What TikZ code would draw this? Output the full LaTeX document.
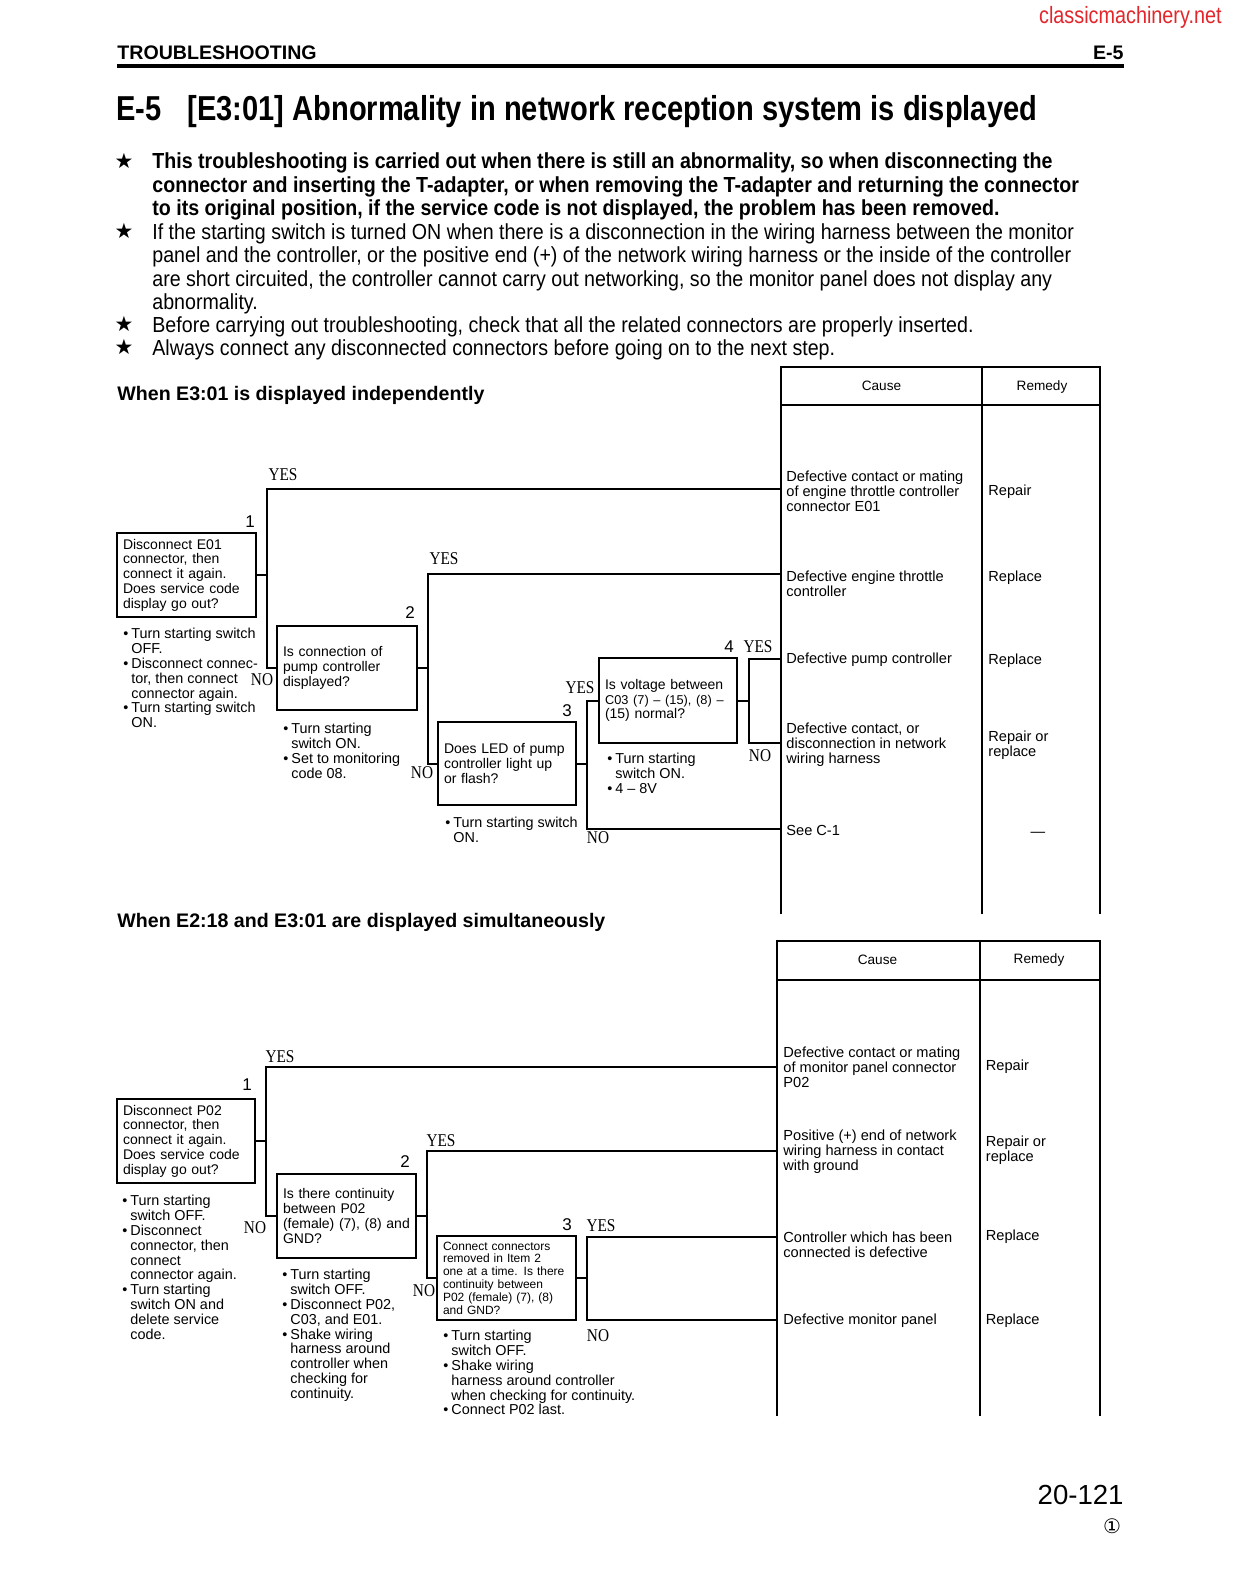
\documentclass[tikz,border=0pt]{standalone}
\usepackage{fontspec}
\setmainfont{Liberation Sans}
\newfontfamily\narrowfont[FakeStretch=0.84]{Liberation Sans}
\newfontfamily\starfont[FakeStretch=0.9]{Liberation Sans}
\newfontfamily\ynfont[FakeStretch=0.85]{Liberation Serif}
\newfontfamily\symfont{DejaVu Sans}
\usepackage{tikz}
\definecolor{sitered}{HTML}{E3262B}
\tikzset{
  qbox/.style 2 args={draw, line width=1.1pt, minimum width=#1, minimum height=#2, text width=#1-6pt, inner xsep=3pt, inner ysep=0pt, align=left, font=\fontsize{7}{7.4}\selectfont},
  note/.style={anchor=north west, inner sep=0pt, align=left, font=\fontsize{7.2}{7.4}\selectfont},
  yn/.style={inner sep=0pt, font=\ynfont\fontsize{9}{9}\selectfont},
  stepno/.style={inner sep=0pt, font=\fontsize{8.5}{9}\selectfont},
  wire/.style={line width=1pt},
  tabline/.style={line width=1pt},
  cause/.style={anchor=west, inner sep=0pt, align=left, font=\fontsize{7.3}{7.6}\selectfont},
  hdr/.style={inner sep=0pt, font=\fontsize{6.8}{7}\selectfont},
  startext/.style={anchor=north west, inner sep=0pt, align=left, font=\starfont\fontsize{10.9}{11.6}\selectfont},
  startextb/.style={startext, font=\starfont\bfseries\fontsize{10.9}{11.6}\selectfont},
  starmark/.style={inner sep=0pt, font=\symfont\fontsize{10.5}{10.5}\selectfont},
  subhead/.style={anchor=base west, inner sep=0pt, font=\bfseries\fontsize{9.8}{10}\selectfont},
}
\newcommand{\bu}{\makebox[4pt][l]{\textbullet}}
\newcommand{\ind}{\hspace*{4pt}}

\begin{document}
\begin{tikzpicture}[x=0.5pt,y=-0.5pt]
  \fill[white] (0,0) rectangle (1234,1584);
  \useasboundingbox (0,0) rectangle (1234,1584);

  \node[anchor=base east, inner sep=0pt, text=sitered, font=\narrowfont\fontsize{11.8}{12}\selectfont] (site) at (1222,24) {classicmachinery.net};
  \node[anchor=base west, inner sep=0pt, font=\bfseries\fontsize{9.8}{10}\selectfont] (sect) at (117,59.5) {TROUBLESHOOTING};
  \node[anchor=base east, inner sep=0pt, font=\bfseries\fontsize{9.8}{10}\selectfont] (sectno) at (1124,59.5) {E-5};
  \draw[line width=1.7pt] (117,66) -- (1124,66);
  \node[anchor=base west, inner sep=0pt, font=\narrowfont\bfseries\fontsize{17.3}{18}\selectfont] (title) at (116,120) {E-5\hspace{13pt}[E3:01] Abnormality in network reception system is displayed};

  \node[starmark] (s1) at (124,160.6) {★};
  \node[startextb] (p1) at (152,152.8) {This troubleshooting is carried out when there is still an abnormality, so when disconnecting the\\connector and inserting the T-adapter, or when removing the T-adapter and returning the connector\\to its original position, if the service code is not displayed, the problem has been removed.};
  \node[starmark] (s2) at (124,231.3) {★};
  \node[startext] (p2) at (152,223.5) {If the starting switch is turned ON when there is a disconnection in the wiring harness between the monitor\\panel and the controller, or the positive end (+) of the network wiring harness or the inside of the controller\\are short circuited, the controller cannot carry out networking, so the monitor panel does not display any\\abnormality.};
  \node[starmark] (s3) at (124,324.2) {★};
  \node[startext] (p3) at (152,316.4) {Before carrying out troubleshooting, check that all the related connectors are properly inserted.};
  \node[starmark] (s4) at (124,347.4) {★};
  \node[startext] (p4) at (152,339.6) {Always connect any disconnected connectors before going on to the next step.};

  \node[subhead] (head1) at (117,400) {When E3:01 is displayed independently};
  \node[subhead] (head2) at (117,927) {When E2:18 and E3:01 are displayed simultaneously};

  \draw[tabline] (781,914) -- (781,367) -- (1100,367) -- (1100,914);
  \draw[tabline] (781,405) -- (1100,405);
  \draw[tabline] (982,367) -- (982,914);
  \node[hdr] (tcause) at (881.5,386) {Cause};
  \node[hdr] (tremedy) at (1042,387) {Remedy};
  \node[cause] (p1c) at (786,491) {Defective contact or mating\\of engine throttle controller\\connector E01};
  \node[cause] (p2c) at (786,584) {Defective engine throttle\\controller};
  \node[cause] (p3c) at (786,660) {Defective pump controller};
  \node[cause] (p4c) at (786,745) {Defective contact, or\\disconnection in network\\wiring harness};
  \node[cause] (p5c) at (786,830) {See C-1};
  \node[cause] (u1) at (988,492) {Repair};
  \node[cause] (u2) at (988,578) {Replace};
  \node[cause] (u3) at (988,661) {Replace};
  \node[cause] (u4) at (988,745.5) {Repair or\\replace};
  \node[hdr, font=\fontsize{7.3}{7.6}\selectfont] (u5) at (1038,834) {—};

  \node[qbox={69.5pt}{42pt}] (a1) at (186.5,575) {Disconnect E01\\connector, then\\connect it again.\\Does service code\\display go out?};
  \node[qbox={70pt}{42pt}] (a2) at (347,668) {Is connection of\\pump controller\\displayed?};
  \node[qbox={69pt}{41.5pt}] (a3) at (507,763.5) {Does LED of pump\\controller light up\\or flash?};
  \node[qbox={69pt}{42.5pt}] (a4) at (668,700.5) {Is voltage between\\\mbox{\fontsize{6.4}{7.4}\selectfont C03 (7) – (15), (8) –}\\(15) normal?};

  \coordinate (ey1) at (781,489);
  \coordinate (ey2) at (781,574);
  \coordinate (ey3) at (781,659);
  \coordinate (en3) at (781,743);
  \coordinate (en4) at (781,829);
  \draw[wire] (a1.east) -- ++(10,0) coordinate (k1) |- (ey1);
  \draw[wire] (k1) |- (a2.west);
  \draw[wire] (a2.east) -- ++(10,0) coordinate (k2) |- (ey2);
  \draw[wire] (k2) |- (a3.west);
  \draw[wire] (a3.east) -- ++(10,0) coordinate (k3) |- (a4.west);
  \draw[wire] (k3) |- (en4);
  \draw[wire] (a4.east) -- ++(11,0) coordinate (k4) |- (ey3);
  \draw[wire] (k4) |- (en3);

  \node[yn] (a1yes) at (283,475) {YES};
  \node[stepno] (a1num) at (250,522) {1};
  \node[yn] (a1no) at (262,680) {NO};
  \node[yn] (a2yes) at (444,559) {YES};
  \node[stepno] (a2num) at (410,613) {2};
  \node[yn] (a2no) at (422,773) {NO};
  \node[stepno] (a3num) at (567,711) {3};
  \node[yn] (a3yes) at (580,688) {YES};
  \node[yn] (a3no) at (598,838) {NO};
  \node[stepno] (a4num) at (729,647) {4};
  \node[yn] (a4yes) at (758,647) {YES};
  \node[yn] (a4no) at (760,756) {NO};

  \node[note] (a1note) at (123,628) {\bu Turn starting switch\\ \ind OFF.\\ \bu Disconnect connec-\\ \ind tor, then connect\\ \ind connector again.\\ \bu Turn starting switch\\ \ind ON.};
  \node[note] (a2note) at (283,723) {\bu Turn starting\\ \ind switch ON.\\ \bu Set to monitoring\\ \ind code 08.};
  \node[note] (a3note) at (445,817) {\bu Turn starting switch\\ \ind ON.};
  \node[note] (a4note) at (607,753) {\bu Turn starting\\ \ind switch ON.\\ \bu 4 – 8V};

  \draw[tabline] (777,1416) -- (777,941) -- (1100,941) -- (1100,1416);
  \draw[tabline] (777,980) -- (1100,980);
  \draw[tabline] (980,941) -- (980,1416);
  \node[hdr] (bcause) at (877.5,960) {Cause};
  \node[hdr] (bremedy) at (1039,960) {Remedy};
  \node[cause] (q1) at (783,1067) {Defective contact or mating\\of monitor panel connector\\P02};
  \node[cause] (q2) at (783,1152) {Positive (+) end of network\\wiring harness in contact\\with ground};
  \node[cause] (q3) at (783,1244.5) {Controller which has been\\connected is defective};
  \node[cause] (q4) at (783,1321) {Defective monitor panel};
  \node[cause] (v1) at (985.5,1067) {Repair};
  \node[cause] (v2) at (985.5,1150.5) {Repair or\\replace};
  \node[cause] (v3) at (985.5,1237) {Replace};
  \node[cause] (v4) at (985.5,1321) {Replace};

  \node[qbox={69pt}{42pt}] (b1) at (186,1141) {Disconnect P02\\connector, then\\connect it again.\\Does service code\\display go out?};
  \node[qbox={69.5pt}{42pt}] (b2) at (346.5,1216) {Is there continuity\\between P02\\(female)~(7),~(8)~and\\GND?};
  \node[qbox={69.5pt}{42pt}, font=\fontsize{6}{6.4}\selectfont] (b3) at (506.5,1278) {Connect connectors\\removed in Item 2\\one at a time. Is there\\continuity between\\P02 (female) (7), (8)\\and GND?};

  \coordinate (fy1) at (777,1067);
  \coordinate (fy2) at (777,1151);
  \coordinate (fy3) at (777,1237);
  \coordinate (fn3) at (777,1320);
  \draw[wire] (b1.east) -- ++(10,0) coordinate (m1) |- (fy1);
  \draw[wire] (m1) |- (b2.west);
  \draw[wire] (b2.east) -- ++(10,0) coordinate (m2) |- (fy2);
  \draw[wire] (m2) |- (b3.west);
  \draw[wire] (b3.east) -- ++(10,0) coordinate (m3) |- (fy3);
  \draw[wire] (m3) |- (fn3);

  \node[yn] (b1yes) at (280,1057) {YES};
  \node[stepno] (b1num) at (247,1085) {1};
  \node[yn] (b1no) at (255,1228) {NO};
  \node[yn] (b2yes) at (441,1141) {YES};
  \node[stepno] (b2num) at (405,1162) {2};
  \node[yn] (b2no) at (424,1291) {NO};
  \node[stepno] (b3num) at (567,1225) {3};
  \node[yn] (b3yes) at (601,1226) {YES};
  \node[yn] (b3no) at (598,1336) {NO};

  \node[note] (b1note) at (122,1195) {\bu Turn starting\\ \ind switch OFF.\\ \bu Disconnect\\ \ind connector, then\\ \ind connect\\ \ind connector again.\\ \bu Turn starting\\ \ind switch ON and\\ \ind delete service\\ \ind code.};
  \node[note] (b2note) at (282,1269) {\bu Turn starting\\ \ind switch OFF.\\ \bu Disconnect P02,\\ \ind C03, and E01.\\ \bu Shake wiring\\ \ind harness around\\ \ind controller when\\ \ind checking for\\ \ind continuity.};
  \node[note] (b3note) at (443,1330) {\bu Turn starting\\ \ind switch OFF.\\ \bu Shake wiring\\ \ind harness around controller\\ \ind when checking for continuity.\\ \bu Connect P02 last.};

  \node[anchor=base east, inner sep=0pt, font=\fontsize{13.8}{14}\selectfont] (pg) at (1124,1504) {20-121};
  \node[inner sep=0pt, font=\symfont\fontsize{10}{10}\selectfont] (rev) at (1112,1526) {①};
\end{tikzpicture}
\end{document}
